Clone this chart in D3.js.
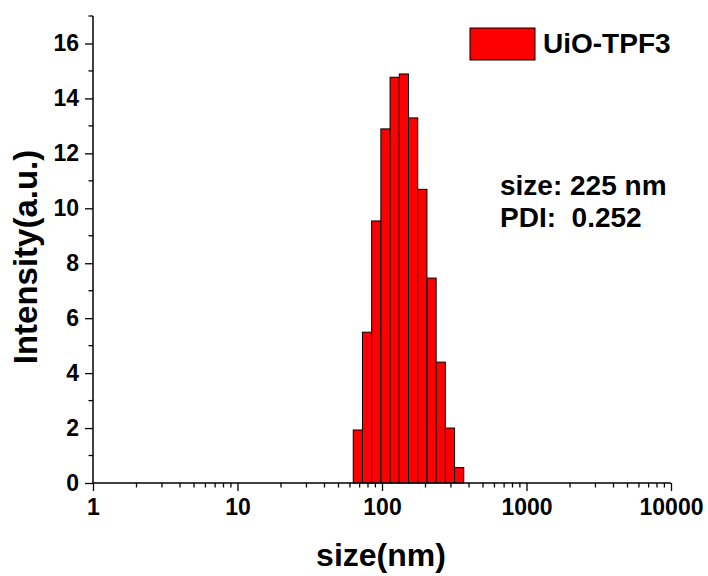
<!DOCTYPE html>
<html>
<head>
<meta charset="utf-8">
<script src="https://cdn.jsdelivr.net/npm/d3@7"></script>
<style>
  body { margin: 0; background: #fff; }
  text { font-family: "Liberation Sans", Arial, sans-serif; font-weight: bold; fill: #000; }
</style>
</head>
<body>
<svg id="chart" width="708" height="576"></svg>
<script>
// bin centres (nm) and intensity
var sizes = [68.06, 78.82, 91.28, 105.7, 122.4, 141.8, 164.2, 190.1, 220.2, 255.0, 295.3, 342.0];
var intensity = [1.93, 5.49, 9.54, 12.89, 14.77, 14.89, 13.29, 10.69, 7.46, 4.40, 2.00, 0.56];
var xTicks = [1, 10, 100, 1000, 10000];
var yTicks = [0, 2, 4, 6, 8, 10, 12, 14, 16];
var seriesName = 'UiO-TPF3';
var notes = ['size: 225 nm', 'PDI:\u00a0\u00a00.252'];

var svg = d3.select('#chart');

var x = d3.scaleLog().domain([1, 10000]).range([93, 671]);
var y = d3.scaleLinear().domain([0, 17]).range([483, 16]);

// half bin width in log space
var halfBin = Math.log10(sizes[1] / sizes[0]) / 2;

svg.append('g')
	.selectAll('rect')
	.data(sizes)
	.enter().append('rect')
		.attr('x', (d) => x(d / Math.pow(10, halfBin)))
		.attr('width', (d) => x(d * Math.pow(10, halfBin)) - x(d / Math.pow(10, halfBin)))
		.attr('y', (d, i) => y(intensity[i]))
		.attr('height', (d, i) => y(0) - y(intensity[i]))
		.attr('fill', '#ff0000')
		.attr('stroke', '#000')
		.attr('stroke-width', 1);

// x axis
var minorX = [];
for (var dec = 1; dec < 10000; dec *= 10) {
	for (var k = 2; k <= 9; k++) minorX.push(dec * k);
}
var xAxis = svg.append('g').attr('transform', 'translate(0,' + y(0) + ')');
xAxis.call(d3.axisBottom(x).tickValues(xTicks).tickFormat(d3.format('d')).tickSize(8).tickPadding(8));
xAxis.append('g').selectAll('line')
	.data(minorX)
	.enter().append('line')
		.attr('x1', (d) => x(d)).attr('x2', (d) => x(d))
		.attr('y1', 0).attr('y2', 4.5)
		.attr('stroke', '#000').attr('stroke-width', 1.3);

// y axis
var minorY = d3.range(1, 18, 2);
var yAxis = svg.append('g').attr('transform', 'translate(' + x(1) + ',0)');
yAxis.call(d3.axisLeft(y).tickValues(yTicks).tickSize(8).tickPadding(6));
yAxis.append('g').selectAll('line')
	.data(minorY)
	.enter().append('line')
		.attr('x1', 0).attr('x2', -4.5)
		.attr('y1', (d) => y(d)).attr('y2', (d) => y(d))
		.attr('stroke', '#000').attr('stroke-width', 1.3);

svg.selectAll('.domain').attr('stroke', '#000').attr('stroke-width', 1.5);
svg.selectAll('.tick line').attr('stroke', '#000').attr('stroke-width', 1.3);
svg.selectAll('.tick text').style('font-size', '23px').attr('fill', '#000');
xAxis.select('.domain').attr('d', 'M' + x(1) + ',0H' + x(10000));
yAxis.select('.domain').attr('d', 'M0,' + y(0) + 'V' + y(17));

// axis titles
svg.append('text')
	.attr('x', 381).attr('y', 566)
	.attr('text-anchor', 'middle')
	.style('font-size', '32px')
	.text('size(nm)');

svg.append('text')
	.attr('transform', 'translate(37,257) rotate(-90)')
	.attr('text-anchor', 'middle')
	.style('font-size', '33px')
	.text('Intensity(a.u.)');

// legend
svg.append('rect')
	.attr('x', 470).attr('y', 28)
	.attr('width', 65).attr('height', 32)
	.attr('fill', '#ff0000').attr('stroke', '#000').attr('stroke-width', 1);
svg.append('text')
	.attr('x', 543).attr('y', 53)
	.style('font-size', '28px')
	.text(seriesName);

svg.append('g').selectAll('text')
	.data(notes)
	.enter().append('text')
		.attr('x', 500)
		.attr('y', (d, i) => 195 + i * 32)
		.style('font-size', '28px')
		.text((d) => d);
</script>
</body>
</html>
